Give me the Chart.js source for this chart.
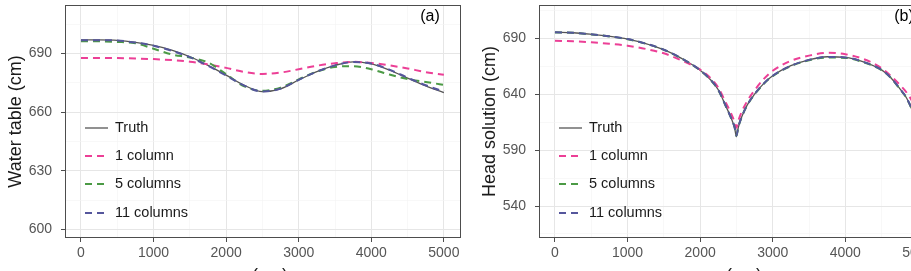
<!DOCTYPE html>
<html><head><meta charset="utf-8">
<script src="https://cdn.jsdelivr.net/npm/chart.js@4.4.1/dist/chart.umd.min.js"></script>
<style>
html,body{margin:0;padding:0;width:911px;height:271px;overflow:hidden;background:#fff;}
#ca{position:absolute;left:0;top:0;}
#cb{position:absolute;left:470px;top:0;}
</style></head><body>
<canvas id="ca" width="470" height="290"></canvas>
<canvas id="cb" width="480" height="290"></canvas>
<script>
// ---------- data ----------
const seriesNames = ['Truth', '1 column', '5 columns', '11 columns'];
const xTicks = [0, 1000, 2000, 3000, 4000, 5000];
const yTicksA = [600, 630, 660, 690];
const yTicksB = [540, 590, 640, 690];
const xTitle = 'x (cm)';
const yTitleA = 'Water table (cm)';
const yTitleB = 'Head solution (cm)';
const panelA = '(a)';
const panelB = '(b)';

// panel (a): water table
const xA = [0, 250, 500, 750, 1000, 1250, 1500, 1750, 2000, 2250, 2500, 2750, 3000, 3250, 3500, 3750, 4000, 4250, 4500, 4750, 5000];
const truthA = [697, 697, 696.8, 695.8, 694.2, 691.8, 688.4, 684, 679, 673.8, 670.5, 672, 676.5, 680.8, 684, 685.8, 684.8, 681.6, 677.5, 673.5, 670];
const col1A  = [687.8, 687.8, 687.7, 687.5, 687.2, 686.7, 685.9, 684.5, 682.7, 680.6, 679.6, 680.3, 682, 683.8, 685.1, 685.8, 685.2, 684, 682.4, 680.5, 679.2];
const col5A  = [696.3, 696.3, 696, 695.3, 692.5, 689.6, 688, 685.5, 679.5, 673.2, 671, 672.6, 676.8, 680.8, 683.2, 683.6, 682, 679.3, 677, 675.5, 674];
const col11A = [696.8, 696.9, 696.7, 695.7, 694, 691.5, 688.2, 683.8, 678.8, 673.6, 670.6, 672.1, 676.6, 680.8, 684, 685.7, 684.9, 681.8, 677.7, 673.8, 670.6];

// panel (b): head solution
const xB = [0, 250, 500, 750, 1000, 1250, 1500, 1750, 2000, 2150, 2250, 2350, 2425, 2475, 2500, 2525, 2575, 2650, 2750, 2875, 3000, 3250, 3500, 3750, 4000, 4250, 4500, 4625, 4750, 4850, 4950, 5000];
const truthB = [695.5, 695, 693.6, 691.8, 689.3, 685.3, 679.8, 671.8, 661.5, 652.5, 644, 630, 619, 610, 602, 610, 620, 630.5, 640, 649.5, 656.5, 665.5, 670.8, 673.5, 673, 669, 661.8, 655, 645, 636, 620, 605];
const col1B  = [687.9, 687.3, 686.4, 685.1, 683.4, 680.5, 676.6, 670, 662, 654, 646, 633, 623, 615, 610, 616, 624.5, 634, 643.5, 653.5, 661, 669.8, 674.5, 677, 675.8, 671.5, 663.3, 656.5, 648.5, 641, 630, 620];
const col5B  = [695.3, 694.9, 693.5, 691.7, 689.2, 685.2, 679.7, 671.7, 661.4, 652.3, 643.8, 629.8, 619, 610.5, 603, 610.5, 620, 630.3, 639.8, 649.2, 656.2, 665.1, 670.3, 672.8, 672.5, 668.6, 661.6, 654.8, 644.8, 635.8, 620, 605];
const col11B = [695.4, 695, 693.6, 691.8, 689.3, 685.3, 679.8, 671.8, 661.5, 652.5, 644, 630, 619, 610.5, 603, 610.5, 620, 630.5, 640, 649.5, 656.5, 665.4, 670.7, 673.4, 672.9, 668.9, 661.8, 655, 645, 636, 620, 605];

// ---------- styles ----------
const colors = ['#555555', '#ec3f96', '#4b9a45', '#55569c'];
const FONT = '"Liberation Sans", Arial, sans-serif';

function makeDatasets(xs, arrs) {
  return arrs.map((arr, i) => ({
    label: seriesNames[i],
    data: xs.map((x, j) => ({x: x, y: arr[j]})),
    borderColor: colors[i],
    borderWidth: i === 0 ? 1.3 : 2,
    borderDash: i === 0 ? [] : [7, 5],
    pointRadius: 0,
    cubicInterpolationMode: 'monotone',
    fill: false,
    order: 4 - i
  }));
}

const decor = {
  id: 'decor',
  afterDraw(chart, args, opts) {
    const {ctx, chartArea: a} = chart;
    ctx.save();
    ctx.strokeStyle = '#4d4d4d';
    ctx.lineWidth = 1;
    ctx.setLineDash([]);
    ctx.strokeRect(Math.round(a.left) + 0.5, Math.round(a.top) + 0.5, Math.round(a.right - a.left) - 1, Math.round(a.bottom - a.top) - 1);
    // legend
    const ys = [123, 151, 179, 208];
    chart.data.datasets.forEach((ds, i) => {
      const y = a.top + ys[i];
      ctx.beginPath();
      ctx.strokeStyle = ds.borderColor;
      ctx.lineWidth = ds.borderWidth;
      ctx.setLineDash(ds.borderDash);
      ctx.moveTo(a.left + 20, y);
      ctx.lineTo(a.left + 43, y);
      ctx.stroke();
      ctx.setLineDash([]);
      ctx.fillStyle = '#1a1a1a';
      ctx.font = '14.5px ' + FONT;
      ctx.textBaseline = 'middle';
      ctx.textAlign = 'left';
      ctx.fillText(ds.label, a.left + 50, y);
    });
    // panel label
    ctx.fillStyle = '#000';
    ctx.font = '16px ' + FONT;
    ctx.textAlign = 'center';
    ctx.textBaseline = 'middle';
    ctx.fillText(opts.label, a.right - 31, a.top + 12);
    ctx.restore();
  }
};

function gridColor(majors) {
  return c => (c.tick && majors.includes(c.tick.value)) ? '#e6e6e6' : '#f3f3f3';
}

function makeChart(id, xs, arrs, yMin, yMax, yTicks, yTitle, label, yWidth, yTitlePad, padRight) {
  const yStep = yTicks[1] - yTicks[0];
  const yAll = [];
  for (let v = yTicks[0] - yStep / 2; v < yMax; v += yStep / 2) if (v > yMin) yAll.push(v);
  const xAll = [];
  for (let v = 0; v <= 5000; v += 500) xAll.push(v);
  return new Chart(document.getElementById(id), {
    type: 'line',
    data: {datasets: makeDatasets(xs, arrs)},
    plugins: [decor],
    options: {
      responsive: false,
      animation: false,
      layout: {padding: {top: 5, right: padRight, left: 0, bottom: 0}},
      plugins: {legend: {display: false}, tooltip: {enabled: false}, decor: {label: label}},
      scales: {
        x: {
          type: 'linear', min: -220, max: 5236,
          afterBuildTicks: s => { s.ticks = xAll.map(v => ({value: v})); },
          afterFit: s => { s.height = 52; s.paddingLeft = 0; s.paddingRight = 0; },
          border: {display: false},
          grid: {
            color: gridColor(xTicks),
            lineWidth: c => (c.tick && xTicks.includes(c.tick.value)) ? 1 : 0.6,
            tickColor: c => (c.tick && xTicks.includes(c.tick.value)) ? '#4d4d4d' : 'rgba(0,0,0,0)',
            tickLength: 4, tickWidth: 1
          },
          ticks: {
            autoSkip: false, maxRotation: 0, padding: 3,
            color: '#555', font: {family: FONT, size: 14},
            callback: v => xTicks.includes(v) ? String(v) : ''
          },
          title: {display: true, text: xTitle, color: '#1a1a1a', font: {family: FONT, size: 18}, padding: {top: 0, bottom: 3}}
        },
        y: {
          type: 'linear', min: yMin, max: yMax,
          afterBuildTicks: s => { s.ticks = yAll.map(v => ({value: v})); },
          afterFit: s => { s.width = yWidth; s.paddingTop = 0; s.paddingBottom = 0; },
          border: {display: false},
          grid: {
            color: gridColor(yTicks),
            lineWidth: c => (c.tick && yTicks.includes(c.tick.value)) ? 1 : 0.6,
            tickColor: c => (c.tick && yTicks.includes(c.tick.value)) ? '#4d4d4d' : 'rgba(0,0,0,0)',
            tickLength: 4, tickWidth: 1
          },
          ticks: {
            autoSkip: false, padding: 9,
            color: '#555', font: {family: FONT, size: 14},
            callback: v => yTicks.includes(v) ? String(v) : ''
          },
          title: {display: true, text: yTitle, color: '#1a1a1a', font: {family: FONT, size: 18}, padding: {top: yTitlePad, bottom: 0}}
        }
      }
    }
  });
}

makeChart('ca', xA, [truthA, col1A, col5A, col11A], 595.6, 714.9, yTicksA, yTitleA, panelA, 65, 5, 9);
makeChart('cb', xB, [truthB, col1B, col5B, col11B], 511.4, 719.8, yTicksB, yTitleB, panelB, 69, 9, 15);
</script>
</body></html>
